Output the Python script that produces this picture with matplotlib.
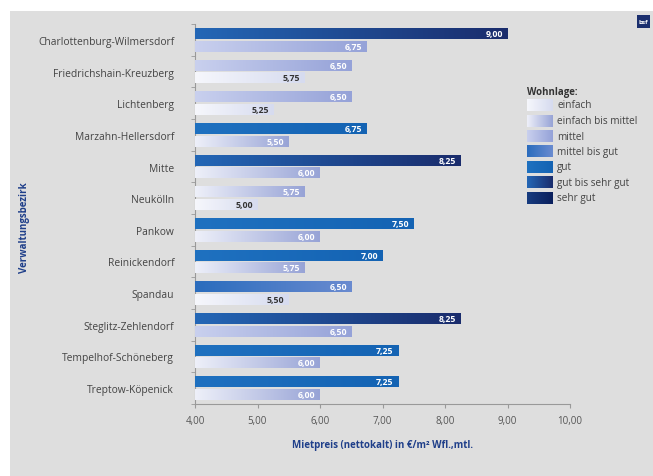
import numpy as np
import matplotlib
matplotlib.use("Agg")
import matplotlib.pyplot as plt
from matplotlib.colors import LinearSegmentedColormap
from matplotlib.patches import Rectangle

plt.rcParams['font.family'] = ['Open Sans', 'DejaVu Sans']

# data
bezirke = ["Charlottenburg-Wilmersdorf", "Friedrichshain-Kreuzberg", "Lichtenberg",
           "Marzahn-Hellersdorf", "Mitte", "Neukölln", "Pankow", "Reinickendorf",
           "Spandau", "Steglitz-Zehlendorf", "Tempelhof-Schöneberg", "Treptow-Köpenick"]
preis_oben = [9.00, 6.50, 6.50, 6.75, 8.25, 5.75, 7.50, 7.00, 6.50, 8.25, 7.25, 7.25]
lage_oben = ["gut bis sehr gut", "mittel", "mittel", "gut", "gut bis sehr gut",
             "einfach bis mittel", "gut", "gut", "mittel bis gut", "gut bis sehr gut",
             "gut", "gut"]
preis_unten = [6.75, 5.75, 5.25, 5.50, 6.00, 5.00, 6.00, 5.75, 5.50, 6.50, 6.00, 6.00]
lage_unten = ["mittel", "einfach", "einfach", "einfach bis mittel", "einfach bis mittel",
              "einfach", "einfach bis mittel", "einfach bis mittel", "einfach", "mittel",
              "einfach bis mittel", "einfach bis mittel"]

lagen = ["einfach", "einfach bis mittel", "mittel", "mittel bis gut", "gut",
         "gut bis sehr gut", "sehr gut"]
# gradient (left, right) per Wohnlage
verlauf = {
    "einfach": ("#f6f7fc", "#d6dbef"),
    "einfach bis mittel": ("#eef0f9", "#97a3d6"),
    "mittel": ("#c9d0ee", "#95a2d8"),
    "mittel bis gut": ("#2a6cbd", "#6a8bd0"),
    "gut": ("#1f71c0", "#1463b3"),
    "gut bis sehr gut": ("#2467b6", "#1a2c6c"),
    "sehr gut": ("#173c80", "#0a1f5c"),
}
cmaps = {k: LinearSegmentedColormap.from_list(k, v) for k, v in verlauf.items()}
grad = np.linspace(0, 1, 256).reshape(1, -1)

fig = plt.figure(figsize=(6.53, 4.77), dpi=100, facecolor="white")
fig.patches.append(Rectangle((10 / 653, 0), 1, 465 / 477, transform=fig.transFigure,
                             facecolor="#dedede", edgecolor="none", zorder=-5))

ax = fig.add_axes([195 / 653, 72 / 477, 375 / 653, 380 / 477])
ax.set_facecolor("none")

y = np.arange(len(bezirke))
h = 0.35
off = 0.2


def gradient_bar(yc, val, lage, textcol):
    bar = ax.barh(yc, val - 4, left=4, height=h, color=verlauf[lage][1], zorder=2)[0]
    im = ax.imshow(grad, cmap=cmaps[lage], aspect="auto", zorder=3,
                   extent=[4, val, yc + h / 2, yc - h / 2])
    im.set_clip_path(bar)
    ax.text(val - 0.07, yc, f"{val:.2f}".replace(".", ","), ha="right", va="center",
            fontsize=6.3, fontweight="bold", color=textcol, zorder=4)


for i in range(len(bezirke)):
    gradient_bar(y[i] - off, preis_oben[i], lage_oben[i],
                 "#333333" if lage_oben[i] == "einfach" else "white")
    gradient_bar(y[i] + off, preis_unten[i], lage_unten[i],
                 "#333333" if lage_unten[i] == "einfach" else "white")

ax.set_xlim(4, 10)
ax.set_ylim(len(bezirke) - 0.5, -0.5)
ax.set_xticks(np.arange(4, 11, 1))
ax.set_xticklabels([f"{v:.2f}".replace(".", ",") for v in np.arange(4, 11, 1)],
                   fontsize=7, color="#555555")
ax.set_yticks(y)
ax.set_yticklabels(bezirke, fontsize=7.4, color="#444444")
ax.set_yticks(np.arange(-0.5, len(bezirke), 1), minor=True)
ax.tick_params(axis="y", which="major", length=0, pad=15)
ax.tick_params(axis="y", which="minor", length=3, color="#999999")
ax.tick_params(axis="x", length=3, color="#999999", pad=5)
for s in ["top", "right"]:
    ax.spines[s].set_visible(False)
for s in ["left", "bottom"]:
    ax.spines[s].set_color("#999999")
    ax.spines[s].set_linewidth(0.8)

ax.set_xlabel("Mietpreis (nettokalt) in €/m² Wfl.,mtl.", fontsize=7, fontweight="bold",
              color="#1f3f8a", labelpad=9)
fig.text(24 / 653, 1 - 228 / 477, "Verwaltungsbezirk", rotation=90, ha="center", va="center",
         fontsize=7, fontweight="bold", color="#1f3f8a")

# legend with gradient swatches
lax = fig.add_axes([527 / 653, 1 - 206 / 477, 124 / 653, 118 / 477])
lax.set_xlim(0, 124)
lax.set_ylim(118, 0)
lax.axis("off")
lax.text(0, 4, "Wohnlage:", fontsize=7, fontweight="bold", color="#333333", va="center")
for k, lage in enumerate(lagen):
    yc = 18 + k * 15.5
    lax.imshow(grad, cmap=cmaps[lage], aspect="auto", extent=[0, 26, yc + 6, yc - 6])
    lax.text(30, yc, lage, fontsize=7.2, color="#444444", va="center")

# small logo box top right
fig.patches.append(Rectangle((637 / 653, 1 - 29 / 477), 13 / 653, 13 / 477,
                             transform=fig.transFigure, facecolor="#1b2f6e", edgecolor="none"))
fig.text(643.5 / 653, 1 - 22.5 / 477, "bsf", fontsize=4.5, fontweight="bold", color="white",
         ha="center", va="center")

fig.savefig("out.png", dpi=100)
